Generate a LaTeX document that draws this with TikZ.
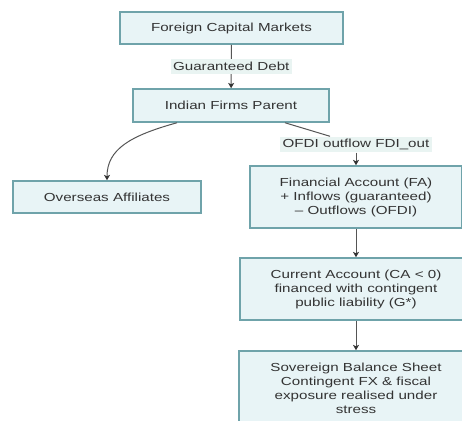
\documentclass[tikz,border=0pt]{standalone}
\usepackage{fontspec}
\setmainfont{Liberation Sans}[FakeStretch=1.3]
\usepackage{tikz}
\usetikzlibrary{arrows.meta,calc}
\definecolor{boxfill}{HTML}{E8F4F6}
\definecolor{boxline}{HTML}{6FA3AA}
\definecolor{lblfill}{HTML}{E9F4F2}
\definecolor{txt}{HTML}{333333}
\definecolor{wire}{HTML}{555555}

\begin{document}
\begin{tikzpicture}[x=0.6pt,y=-0.6pt,
    font=\fontsize{7}{8.4}\selectfont,
    box/.style={draw=boxline,line width=0.9pt,fill=boxfill,text=txt,align=center,
      minimum height=19.2pt,inner sep=2pt},
    lbl/.style={fill=lblfill,text=txt,inner sep=1.5pt,minimum height=9pt},
    wire/.style={draw=wire,line width=0.6pt},
    arr/.style={wire,-{Stealth[length=3.2pt,width=3.6pt,inset=0.8pt,color=txt]}}]
    \useasboundingbox[fill=white] (0,0) rectangle (462,421);
    \clip (0,0) rectangle (462,421);

    \node[box,minimum width=133.8pt] at (231.5,28) (fcm) {Foreign Capital Markets};
    \node[box,minimum width=117.6pt,minimum height=19.8pt] at (231,105.5) (ifp) {Indian Firms Parent};
    \node[box,minimum width=112.8pt] at (107,197) (oa) {Overseas Affiliates};
    \node[lbl] at (356,144.5) (ofdi) {OFDI outflow FDI\_out};
    \node[box,minimum width=127.2pt,minimum height=37.2pt] at (356,197) (fa)
        {Financial Account (FA)\\+ Inflows (guaranteed)\\\textendash{} Outflows (OFDI)};
    \node[box,minimum width=139.2pt,minimum height=37.2pt] at (356,289) (ca)
        {Current Account (CA \textless{} 0)\\financed with contingent\\public liability (G*)};
    \node[box,minimum width=140.4pt,minimum height=44.4pt] at (356,388) (sbs)
        {Sovereign Balance Sheet\\Contingent FX \& fiscal\\exposure realised under\\stress};

    \draw[arr] (fcm) -- node[lbl] (dbt) {Guaranteed Debt} (ifp);
    \draw[arr] ($(ifp.south)+(-54,0)$) .. controls +(-47,13) and +(0,-31) .. (oa.north);
    \draw[wire] ($(ifp.south)+(54,0)$) -- ($(ofdi.north)+(-26,0)$);
    \draw[arr] (ofdi) -- (fa);
    \draw[arr] (fa) -- (ca);
    \draw[arr] (ca) -- (sbs);
\end{tikzpicture}
\end{document}
